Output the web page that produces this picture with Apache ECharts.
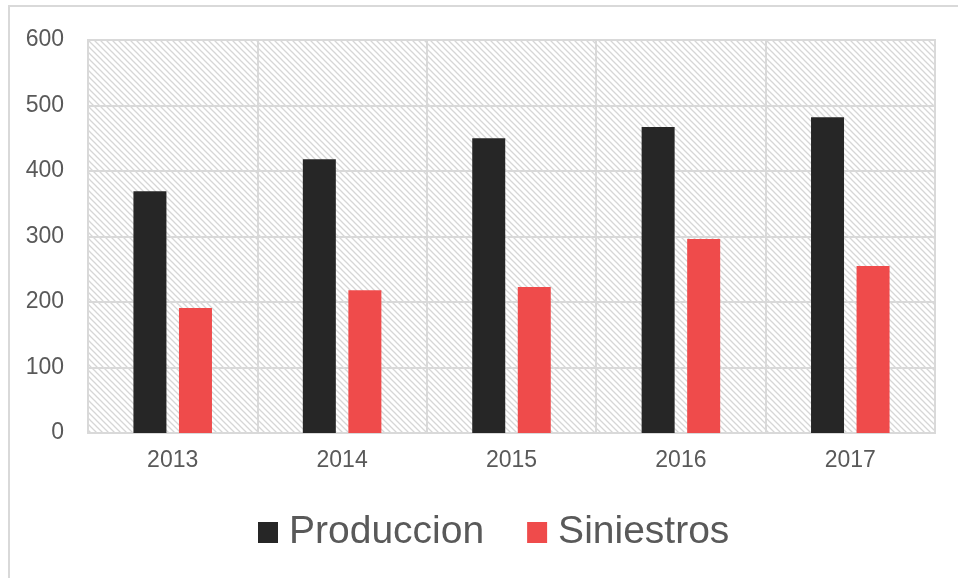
<!DOCTYPE html>
<html>
<head>
<meta charset="utf-8">
<script src="https://cdn.jsdelivr.net/npm/echarts@6/dist/echarts.min.js"></script>
<style>html,body{margin:0;padding:0;background:#fff;}#c{width:958px;height:578px;}</style>
</head>
<body>
<div id="c"></div>
<script>
var years = ['2013', '2014', '2015', '2016', '2017'];
var produccion = [369, 418, 450, 467, 482];
var siniestros = [191, 218, 223, 296, 255];
var yTicks = {min: 0, max: 600, interval: 100};

var pc = document.createElement('canvas');
pc.width = 6; pc.height = 6;
var ctx = pc.getContext('2d');
ctx.fillStyle = '#ffffff';
ctx.fillRect(0, 0, 6, 6);
ctx.strokeStyle = '#d6d6d6';
ctx.lineWidth = 1.3;
ctx.beginPath();
ctx.moveTo(-1, -1); ctx.lineTo(7, 7);
ctx.moveTo(-1, 5); ctx.lineTo(1, 7);
ctx.moveTo(5, -1); ctx.lineTo(7, 1);
ctx.stroke();

var chart = echarts.init(document.getElementById('c'), null, {renderer: 'canvas'});
var txt = '#595959';
chart.setOption({
  animation: false,
  graphic: [{
    type: 'rect', shape: {x: 9, y: 6, width: 960, height: 590},
    style: {fill: 'none', stroke: '#d9d9d9', lineWidth: 2}, silent: true
  }],
  grid: {
    left: 88, right: 23, top: 40, bottom: 145,
    show: true, borderColor: '#d9d9d9', borderWidth: 2,
    backgroundColor: {image: pc, repeat: 'repeat'}
  },
  legend: {
    top: 508, left: 253, itemWidth: 20, itemHeight: 21, itemGap: 43,
    icon: 'rect',
    textStyle: {fontSize: 39, color: txt, fontFamily: 'Liberation Sans', padding: [0, 0, 0, 6]},
    data: ['Produccion', 'Siniestros']
  },
  xAxis: {
    type: 'category', data: years,
    axisLine: {show: true, lineStyle: {color: '#d9d9d9', width: 2}},
    axisTick: {show: false},
    splitLine: {show: true, lineStyle: {color: '#d9d9d9', width: 2}},
    axisLabel: {fontSize: 23, color: txt, fontFamily: 'Liberation Sans', margin: 16}
  },
  yAxis: {
    type: 'value', min: yTicks.min, max: yTicks.max, interval: yTicks.interval,
    axisLine: {show: false}, axisTick: {show: false},
    splitLine: {show: true, lineStyle: {color: '#d9d9d9', width: 2}},
    axisLabel: {fontSize: 23, color: txt, fontFamily: 'Liberation Sans', margin: 24}
  },
  series: [
    {name: 'Produccion', type: 'bar', data: produccion, barWidth: 33, barGap: '38%',
     itemStyle: {color: '#262626'}},
    {name: 'Siniestros', type: 'bar', data: siniestros, barWidth: 33,
     itemStyle: {color: '#ef4b4b'}}
  ]
});
</script>
</body>
</html>
